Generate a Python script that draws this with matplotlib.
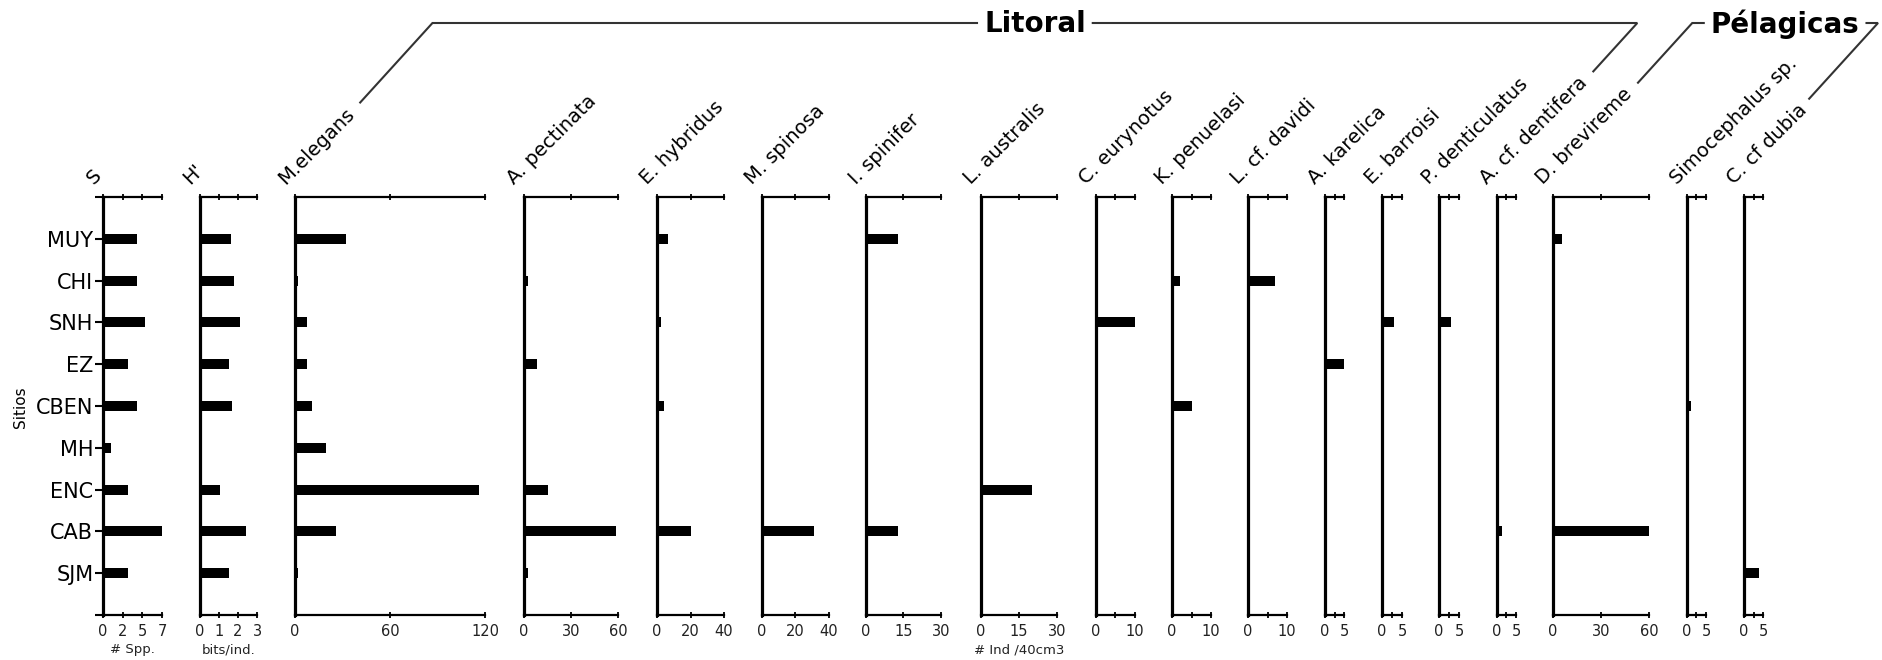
import matplotlib
matplotlib.use('Agg')
import matplotlib.pyplot as plt
import numpy as np
from matplotlib.lines import Line2D

# ---------------- data ----------------
sites = ['MUY', 'CHI', 'SNH', 'EZ', 'CBEN', 'MH', 'ENC', 'CAB', 'SJM']

riqueza_S = [4, 4, 5, 3, 4, 1, 3, 7, 3]
shannon_H = [1.64, 1.8, 2.08, 1.55, 1.71, 0, 1.06, 2.43, 1.55]
m_elegans = [32, 2, 7.5, 7.5, 10.5, 19.5, 116, 26, 2]
a_pectinata = [0, 2.3, 0, 8, 0, 0, 15, 59, 2.3]
e_hybridus = [6.4, 0, 2.5, 0, 4.3, 0, 0, 20, 0]
m_spinosa = [0, 0, 0, 0, 0, 0, 0, 31, 0]
i_spinifer = [13, 0, 0, 0, 0, 0, 0, 13, 0]
l_australis = [0, 0, 0, 0, 0, 0, 20.3, 0, 0]
c_eurynotus = [0, 0, 10, 0, 0, 0, 0, 0, 0]
k_penuelasi = [0, 2, 0, 0, 5.1, 0, 0, 0, 0]
l_davidi = [0, 7, 0, 0, 0, 0, 0, 0, 0]
a_karelica = [0, 0, 0, 5, 0, 0, 0, 0, 0]
e_barroisi = [0, 0, 3.1, 0, 0, 0, 0, 0, 0]
p_denticulatus = [0, 0, 3, 0, 0, 0, 0, 0, 0]
a_dentifera = [0, 0, 0, 0, 0, 0, 0, 1.3, 0]
d_brevireme = [5.9, 0, 0, 0, 0, 0, 0, 60, 0]
simocephalus = [0, 0, 0, 0, 1.1, 0, 0, 0, 0]
c_dubia = [0, 0, 0, 0, 0, 0, 0, 0, 4]

titles = ['S', "H'", 'M.elegans', 'A. pectinata', 'E. hybridus', 'M. spinosa',
          'I. spinifer', 'L. australis', 'C. eurynotus', 'K. penuelasi',
          'L. cf. davidi', 'A. karelica', 'E. barroisi', 'P. denticulatus',
          'A. cf. dentifera', 'D. brevireme', 'Simocephalus sp.', 'C. cf dubia']
series = [riqueza_S, shannon_H, m_elegans, a_pectinata, e_hybridus, m_spinosa,
          i_spinifer, l_australis, c_eurynotus, k_penuelasi, l_davidi, a_karelica,
          e_barroisi, p_denticulatus, a_dentifera, d_brevireme, simocephalus, c_dubia]
x_max = [7, 3, 120, 60, 40, 40, 30, 30, 10, 10, 10, 5, 5, 5, 5, 60, 5, 5]
tick_labels = [['0', '2', '5', '7'], ['0', '1', '2', '3'], ['0', '60', '120'],
               ['0', '30', '60'], ['0', '20', '40'], ['0', '20', '40'],
               ['0', '15', '30'], ['0', '15', '30'], ['0', '', '10'],
               ['0', '', '10'], ['0', '', '10'], ['0', '', '5'], ['0', '', '5'],
               ['0', '', '5'], ['0', '', '5'], ['0', '30', '60'], ['0', '', '5'],
               ['0', '', '5']]
x_labels = {0: '# Spp.', 1: 'bits/ind.', 7: '# Ind /40cm3'}
group_litoral = ('Litoral', 2, 14)
group_pelagicas = ('Pélagicas', 15, 17)
y_label = 'Sitios'

# ---------------- layout (pixels in a 1883x660 canvas) ----------------
W, H = 1883, 660
panel_px = [(103, 162), (200, 257), (295, 485), (524, 618), (657, 724),
            (762, 829), (866, 941), (981, 1057), (1096, 1135), (1172, 1211),
            (1248, 1287), (1325, 1344), (1382, 1402), (1439, 1459),
            (1497, 1516), (1553, 1649), (1687, 1706), (1744, 1763)]
top_px, bot_px = 197, 615

plt.rcParams['font.family'] = ['DejaVu Sans']
fig = plt.figure(figsize=(W / 100, H / 100), dpi=100)

n = len(sites)
ypos = np.arange(n)
axes = []
title_texts = []
for i, (l, r) in enumerate(panel_px):
    ax = fig.add_axes([l / W, 1 - bot_px / H, (r - l) / W, (bot_px - top_px) / H])
    ax.barh(ypos, series[i], height=0.24, color='black', edgecolor='none')
    ax.set_xlim(0, x_max[i])
    ax.set_ylim(n, -1)
    ticks = np.linspace(0, x_max[i], len(tick_labels[i]))
    ax.set_xticks(ticks)
    ax.set_xticklabels(tick_labels[i], fontsize=10.5, color='#222')
    ax.tick_params(axis='x', top=True, bottom=True, direction='inout',
                   length=5, width=1.3, pad=4)
    ax.spines['right'].set_visible(False)
    ax.spines['left'].set_linewidth(2.3)
    ax.spines['top'].set_linewidth(1.6)
    ax.spines['bottom'].set_linewidth(1.6)
    if i == 0:
        yt = list(range(-1, n + 1))
        ax.set_yticks(yt)
        ax.set_yticklabels([''] + sites + [''], fontsize=15)
        ax.tick_params(axis='y', direction='out', length=6, width=1.5, pad=1)
    else:
        ax.set_yticks([])
    if i in x_labels:
        ax.set_xlabel(x_labels[i], fontsize=9.5, labelpad=3, color='#222')
    t = ax.annotate(titles[i], xy=(0, 1), xycoords='axes fraction',
                    xytext=(-7, 8.5), textcoords='offset points',
                    rotation=45, rotation_mode='anchor', ha='left',
                    va='baseline', fontsize=14)
    axes.append(ax)
    title_texts.append(t)

fig.text(20 / W, 1 - 407 / H, y_label, rotation=90, ha='center', va='center',
         fontsize=11)

# ---------------- group connectors ----------------
fig.canvas.draw()
renderer = fig.canvas.get_renderer()
line_y = H - 23  # display coords (origin bottom-left)
slope = 1.1


def text_end(idx):
    bb = title_texts[idx].get_window_extent(renderer)
    return bb.x1 + 2, bb.y1 + 2


def draw_line(pts):
    xs = [p[0] / W for p in pts]
    ys = [p[1] / H for p in pts]
    fig.add_artist(Line2D(xs, ys, color='#333', lw=1.5, transform=fig.transFigure,
                          solid_joinstyle='miter'))


for name, i0, i1 in (group_litoral, group_pelagicas):
    sx, sy = text_end(i0)
    ex, ey = text_end(i1)
    top_left = (sx + (line_y - sy) / slope, line_y)
    top_right = (min(ex + (line_y - ey) / slope, W - 5), line_y)
    ex = top_right[0] - (line_y - ey) / slope
    cx = (top_left[0] + top_right[0]) / 2
    gt = fig.text(cx / W, (line_y - 1) / H, name, ha='center', va='center',
                  fontsize=20, fontweight='bold')
    gb = gt.get_window_extent(renderer)
    draw_line([(sx, sy), top_left, (gb.x0 - 7, line_y)])
    draw_line([(gb.x1 + 7, line_y), top_right, (ex, ey)])

fig.savefig('out.png', dpi=100, facecolor='white')
